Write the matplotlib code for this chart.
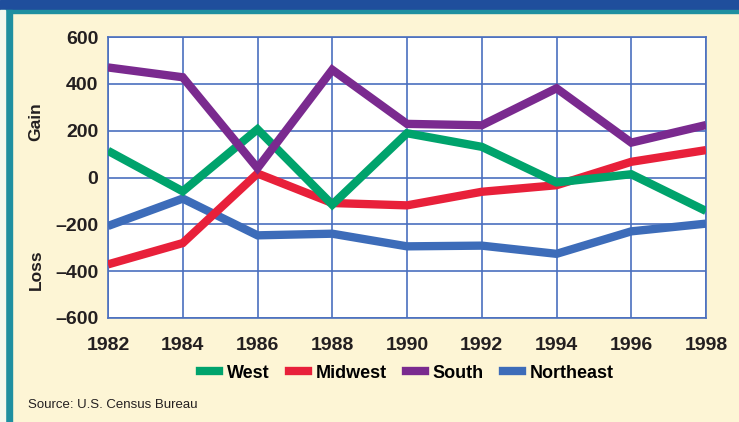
import matplotlib.pyplot as plt
from matplotlib.patches import Rectangle
from matplotlib.lines import Line2D

years = [1982, 1984, 1986, 1988, 1990, 1992, 1994, 1996, 1998]
west = [114, -59, 206, -116, 189, 131, -21, 14, -143]
midwest = [-371, -280, 17, -109, -119, -61, -33, 67, 117]
south = [470, 428, 40, 460, 229, 223, 381, 149, 224]
northeast = [-207, -90, -247, -240, -294, -291, -326, -230, -197]

series = [("Northeast", northeast, "#3d6cb9"),
          ("Midwest", midwest, "#e8203a"),
          ("West", west, "#00a36c"),
          ("South", south, "#7a2a8f")]
legend_order = ["West", "Midwest", "South", "Northeast"]

bg = "#fdf5d5"
grid_col = "#4a6fbf"
font = "Liberation Sans"
ink = "#231f20"

fig = plt.figure(figsize=(7.39, 4.22), dpi=100, facecolor=bg)

# border strips
fig.patches.append(Rectangle((0, 1 - 10 / 422), 1, 10 / 422, transform=fig.transFigure,
                             color="#1f4e9c", zorder=0))
fig.patches.append(Rectangle((0, 1 - 13 / 422), 1, 3 / 422, transform=fig.transFigure,
                             color="#1f8fa0", zorder=0))
fig.patches.append(Rectangle((5 / 739, 0), 7 / 739, 1 - 10 / 422, transform=fig.transFigure,
                             color="#1f8fa0", zorder=0))
fig.patches.append(Rectangle((0, 0), 5 / 739, 1 - 10 / 422, transform=fig.transFigure,
                             color="#f4f8ee", zorder=0))

ax = fig.add_axes([108 / 739, 1 - 318 / 422, 598 / 739, 281 / 422])
ax.set_facecolor("white")

lines = {}
for name, vals, col in series:
    ln, = ax.plot(years, vals, color=col, lw=6, solid_joinstyle="miter",
                  solid_capstyle="butt", zorder=3)
    lines[name] = ln

ax.set_xlim(1982, 1998)
ax.set_ylim(-600, 600)
ax.set_xticks(years)
ax.set_yticks(range(-600, 601, 200))
ax.set_yticklabels(["\u2013600", "\u2013400", "\u2013200", "0", "200", "400", "600"])
ax.grid(True, color=grid_col, lw=1.2, zorder=1)
for s in ax.spines.values():
    s.set_color(grid_col)
    s.set_linewidth(1.2)
ax.tick_params(length=0, labelsize=14)
ax.tick_params(axis="x", pad=14)
ax.tick_params(axis="y", pad=7)
for lab in ax.get_xticklabels() + ax.get_yticklabels():
    lab.set_fontfamily(font)
    lab.set_fontweight("bold")
    lab.set_color(ink)

fig.text(36 / 739, 1 - 122 / 422, "Gain", rotation=90, ha="center", va="center",
         fontsize=12.5, fontweight="bold", family=font, color=ink)
fig.text(36 / 739, 1 - 270 / 422, "Loss", rotation=90, ha="center", va="center",
         fontsize=12.5, fontweight="bold", family=font, color=ink)

handles = [Line2D([], [], color=lines[n].get_color(), lw=6) for n in legend_order]
fig.legend(handles, legend_order, loc="center", bbox_to_anchor=(407 / 739, 1 - 373 / 422),
           ncol=4, frameon=False, handlelength=1.05, handletextpad=0.4, columnspacing=1.1,
           prop={"family": font, "weight": "bold", "size": 13})

fig.text(28 / 739, 1 - 405 / 422, "Source: U.S. Census Bureau", ha="left", va="center",
         fontsize=9.5, family=font, color=ink)

fig.savefig("out.png", dpi=100, facecolor=bg)
